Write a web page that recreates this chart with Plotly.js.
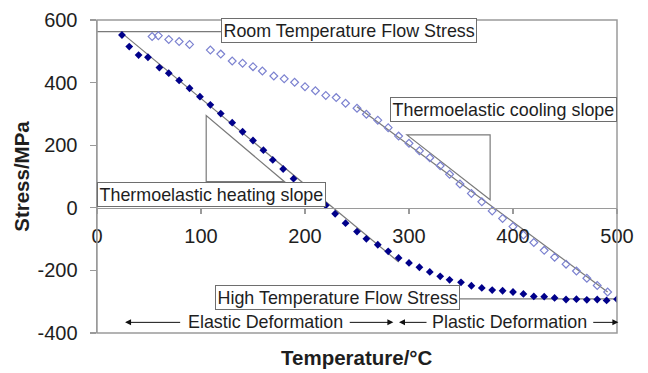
<!DOCTYPE html>
<html>
<head>
<meta charset="utf-8">
<script src="https://cdn.plot.ly/plotly-3.0.1.min.js"></script>
<style>
  html, body { margin: 0; padding: 0; background: #fff; }
  #chart { width: 648px; height: 373px; }
</style>
</head>
<body>
<div id="chart"></div>
<script>
// Heating run (filled diamonds): temperature in °C, stress in MPa
const heatTemp = [24, 31, 40, 49, 60, 69, 79, 89, 99, 109, 119, 130, 140, 150, 160, 169, 179, 189, 200, 210, 220,
  229, 239, 250, 259, 270, 280, 290, 300, 310, 320, 330, 339, 350, 360, 370, 380, 390, 400, 410, 420, 430, 440,
  451, 461, 471, 481, 490, 500];
const heatStress = [552, 515, 488, 481, 448, 430, 407, 382, 355, 329, 301, 272, 243, 215, 184, 153, 124, 93, 63, 35, 8,
  -19, -49, -76, -99, -118, -139, -160, -176, -190, -205, -219, -230, -238, -249, -256, -263, -265, -269, -275, -283, -284, -288,
  -293, -292, -294, -293, -296, -292];

// Cooling run (open diamonds)
const coolTemp = [53, 59, 69, 79, 89, 109, 119, 130, 140, 150, 159, 170, 180, 190, 200, 210, 220, 230, 239, 250, 259,
  270, 280, 290, 300, 310, 320, 330, 339, 349, 360, 370, 380, 390, 400, 410, 420, 430, 440, 451, 461, 471, 481, 491];
const coolStress = [547, 550, 538, 531, 522, 504, 491, 469, 462, 451, 437, 421, 412, 401, 387, 374, 359, 352, 334, 318, 299,
  280, 256, 229, 206, 182, 160, 134, 107, 76, 46, 19, -10, -34, -60, -87, -111, -136, -158, -180, -202, -225, -248, -269];

// Reference levels and slope guides (temperature, stress pairs)
const roomFlowStress = 563;
const highFlowStress = -291;
const heatingFitTemp = [24, 290];
const heatingFitStress = [558, -173];
const coolingFitTemp = [250, 491];
const coolingFitStress = [323, -269];
const heatingTriTemp = [105, 180];
const heatingTriStress = [295, 84];
const coolingTriTemp = [298, 378];
const coolingTriStress = [233, 26];

const xTicks = [0, 100, 200, 300, 400, 500];
const yTicks = [-400, -200, 0, 200, 400, 600];

const FONT = 'Liberation Sans, Arial, Helvetica, sans-serif';
const TXT = '#1e1e1e';
const GUIDE = '#7a7a7a';
const FRAME = '#9a9a9a';
const BOXLINE = '#6e6e6e';

const traces = [
  {
    x: heatTemp, y: heatStress, type: 'scatter', mode: 'markers', name: 'Heating',
    marker: { symbol: 'diamond', size: 6, color: '#00008a' }
  },
  {
    x: coolTemp, y: coolStress, type: 'scatter', mode: 'markers', name: 'Cooling',
    marker: { symbol: 'diamond-open', size: 6, color: '#7c82d0', line: { width: 1.2, color: '#7c82d0' } }
  }
];

const guideLine = { color: GUIDE, width: 1.2 };
const shapes = [
  // plot frame
  { type: 'rect', xref: 'paper', yref: 'paper', x0: 0, x1: 1, y0: 0, y1: 1,
    line: { color: FRAME, width: 1.5 }, layer: 'above' },
  // flow stress levels
  { type: 'line', xref: 'x', yref: 'y', x0: 0, x1: 119.2, y0: roomFlowStress, y1: roomFlowStress,
    line: guideLine, layer: 'below' },
  { type: 'line', xref: 'x', yref: 'y', x0: 349, x1: 500, y0: highFlowStress, y1: highFlowStress,
    line: guideLine, layer: 'below' },
  // thermoelastic fits
  { type: 'line', xref: 'x', yref: 'y', x0: heatingFitTemp[0], x1: heatingFitTemp[1],
    y0: heatingFitStress[0], y1: heatingFitStress[1], line: guideLine, layer: 'below' },
  { type: 'line', xref: 'x', yref: 'y', x0: coolingFitTemp[0], x1: coolingFitTemp[1],
    y0: coolingFitStress[0], y1: coolingFitStress[1], line: guideLine, layer: 'below' },
  // slope triangles
  { type: 'path', xref: 'x', yref: 'y', layer: 'below', line: guideLine,
    path: `M ${heatingTriTemp[0]},${heatingTriStress[0]} L ${heatingTriTemp[0]},${heatingTriStress[1]} L ${heatingTriTemp[1]},${heatingTriStress[1]} Z` },
  { type: 'path', xref: 'x', yref: 'y', layer: 'below', line: guideLine,
    path: `M ${coolingTriTemp[0]},${coolingTriStress[0]} L ${coolingTriTemp[1]},${coolingTriStress[0]} L ${coolingTriTemp[1]},${coolingTriStress[1]} Z` }
];

const boxFont = { family: FONT, size: 17.9, color: TXT };
const boxed = (text, x, y, xanchor) => ({
  text, x, y, xref: 'x', yref: 'y', xanchor, yanchor: 'middle', showarrow: false,
  font: boxFont, bgcolor: '#ffffff', bordercolor: BOXLINE, borderwidth: 1, borderpad: 1.5
});
const arrow = (tipX, tailX, y) => ({
  text: '', x: tipX, y, ax: tailX, ay: y, xref: 'x', yref: 'y', axref: 'x', ayref: 'y',
  showarrow: true, arrowhead: 2, arrowsize: 1.2, arrowwidth: 1, arrowcolor: '#111'
});
const deformY = -366;

const annotations = [
  boxed('Room Temperature Flow Stress', 119.2, 565, 'left'),
  boxed('Thermoelastic cooling slope', 500, 315, 'right'),
  boxed('Thermoelastic heating slope', 0, 43, 'left'),
  boxed('High Temperature Flow Stress', 349, -287, 'right'),
  { text: 'Elastic Deformation', x: 162, y: deformY, xref: 'x', yref: 'y', showarrow: false,
    xanchor: 'center', yanchor: 'middle', font: boxFont },
  { text: 'Plastic Deformation', x: 397, y: deformY, xref: 'x', yref: 'y', showarrow: false,
    xanchor: 'center', yanchor: 'middle', font: boxFont },
  arrow(27, 81.4, deformY),
  arrow(285, 241.6, deformY),
  arrow(290.4, 318.3, deformY),
  arrow(501.3, 475.7, deformY),
  { text: 'Temperature/°C', xref: 'paper', yref: 'paper', x: 0.5, y: -0.079,
    xanchor: 'center', yanchor: 'middle', showarrow: false,
    font: { family: FONT, size: 20.5, color: TXT, weight: 'bold' } }
];

const layout = {
  width: 648, height: 373,
  margin: { l: 97, r: 31, t: 20, b: 40 },
  paper_bgcolor: '#ffffff', plot_bgcolor: '#ffffff',
  showlegend: false,
  font: { family: FONT, color: TXT },
  xaxis: {
    range: [0, 500], tickvals: xTicks, ticktext: xTicks.map(String),
    anchor: 'free', position: 0.4,
    showline: true, linecolor: FRAME, linewidth: 1.3,
    ticks: 'outside', ticklen: 5, tickcolor: FRAME, tickwidth: 1.2,
    ticklabelstandoff: 5,
    showgrid: false, zeroline: false,
    tickfont: { family: FONT, size: 20, color: TXT }
  },
  yaxis: {
    range: [-400, 600], tickvals: yTicks, ticktext: yTicks.map(String),
    showline: true, linecolor: FRAME, linewidth: 1.5,
    ticks: 'outside', ticklen: 6, tickcolor: FRAME, tickwidth: 1.2,
    ticklabelstandoff: 8,
    showgrid: false, zeroline: false,
    tickfont: { family: FONT, size: 20, color: TXT },
    title: { text: 'Stress/MPa', standoff: 2, font: { family: FONT, size: 20.5, color: TXT, weight: 'bold' } }
  },
  shapes, annotations
};

Plotly.newPlot('chart', traces, layout, { staticPlot: true, displayModeBar: false });
</script>
</body>
</html>
